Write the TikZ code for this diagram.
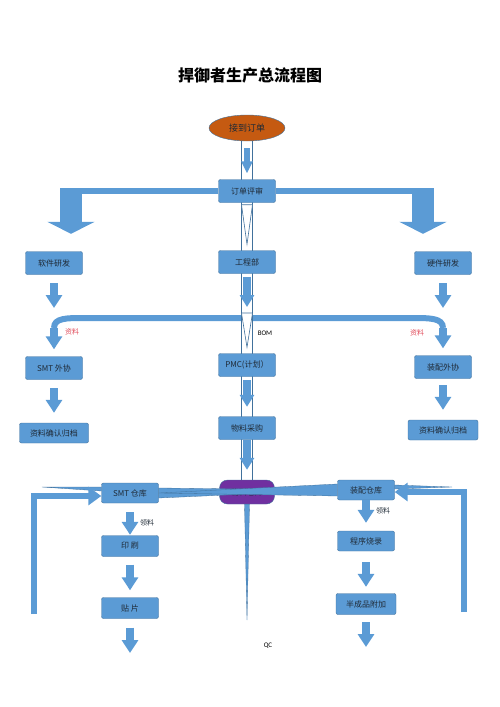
\documentclass[tikz,border=0pt]{standalone}
\usepackage{fontspec}
\usetikzlibrary{shapes.geometric,arrows.meta,backgrounds,calc}
\newfontfamily\cjk{Noto Sans CJK SC}
\newfontfamily\lat{Carlito}
\definecolor{arrblue}{HTML}{5B9BD5}
\definecolor{arrline}{HTML}{41719C}
\definecolor{ordfill}{HTML}{C55A11}
\definecolor{stkfill}{HTML}{7030A0}
\definecolor{boxtext}{HTML}{1F2A36}
\definecolor{notered}{HTML}{E04B5A}

\tikzset{
  box/.style={draw=arrline, fill=arrblue, rounded corners=2pt, minimum width=57pt,
    minimum height=23pt, inner sep=1pt, text=boxtext, font=\cjk\fontsize{8}{9}\selectfont},
  blk/.style={draw=arrblue, line width=8pt, -{Triangle[width=16pt,length=13pt]}},
  midblk/.style={draw=arrblue, line width=8pt, -{Triangle[width=14pt,length=12pt]}},
  thinblk/.style={draw=arrblue, line width=6pt, -{Triangle[width=11pt,length=12pt]}},
  bigblk/.style={draw=arrblue, line width=22pt, -{Triangle[width=47pt,length=12pt]}},
  band/.style={draw=arrblue, line width=6pt},
  feed/.style={draw=arrblue, line width=6pt, line join=miter, -{Triangle[width=18pt,length=13pt]}},
  pipe/.style={draw=arrline, line width=0.8pt, double=white, double distance=10pt},
  sliver/.style={fill=arrblue, draw=arrline, line width=0.3pt},
  vee/.style={fill=white, draw=arrline, line width=0.6pt},
  note/.style={font=\cjk\fontsize{7}{8}\selectfont, text=boxtext}
}

\begin{document}
\begin{tikzpicture}[x=1pt,y=-1pt]
    \useasboundingbox (0,0) rectangle (500,707);

    % --- Title ---
    \node[font=\cjk\bfseries\fontsize{16}{18}\selectfont] (title) at (250,75) {捍御者生产总流程图};

    % --- Upper part ---
    \node[ellipse, draw=arrline, fill=ordfill, minimum width=76pt, minimum height=26pt,
      inner sep=0pt, text=boxtext, font=\cjk\fontsize{9}{10}\selectfont] (order) at (247,128) {接到订单};
    \node[box] (review) at (247,191) {订单评审};
    \node[box] (soft) at (54,263) {软件研发};
    \node[box] (eng) at (247,262) {工程部};
    \node[box] (hard) at (443,263) {硬件研发};
    \node[box] (smtout) at (54,368) {SMT 外协};
    \node[box] (pmc) at (247,365) {PMC(计划）};
    \node[box] (asmout) at (443,367) {装配外协};
    \node[box, minimum width=69pt, minimum height=20pt] (archL) at (54,433) {资料确认归档};
    \node[box] (buy) at (247,428) {物料采购};
    \node[box, minimum width=70pt, minimum height=20pt] (archR) at (443,430) {资料确认归档};

    % --- Lower part ---
    \node[box, fill=stkfill, rounded corners=8pt, minimum width=55pt, minimum height=24pt] (mstock) at (247,492) {物料仓库};
    \node[box, minimum height=20pt] (smtstock) at (130,493) {SMT 仓库};
    \node[box, minimum height=20pt] (asmstock) at (366,490) {装配仓库};
    \node[box, minimum height=21pt] (print) at (130,546) {印\ 刷};
    \node[box, minimum height=21pt] (mount) at (130,608) {贴\ 片};
    \node[box, minimum height=20pt] (burn) at (366,541) {程序烧录};
    \node[box, minimum width=60pt, minimum height=21pt] (semi) at (366,604) {半成品附加};

    \coordinate (lcorner) at (71,188);
    \coordinate (rcorner) at (423,188);
    \coordinate (split) at (247,318);
    \coordinate (turnL) at (84,318);
    \coordinate (turnR) at (412,318);
    \coordinate (dropL) at (54,328);
    \coordinate (dropR) at (443,328);
    \coordinate (lfeed) at (42,487);
    \coordinate (rfeed) at (452,487);
    \coordinate (lbase) at (34,614);
    \coordinate (rbase) at (464,612);
    \coordinate (qcend) at (247,620);
    \coordinate (mountend) at (130,653);
    \coordinate (semiend) at (366,647);

    % --- Bands and pipe behind the boxes ---
    \begin{scope}[on background layer]
        \draw[band] (review) -- (review -| lcorner);
        \draw[band] (review) -- (review -| rcorner);
        \draw[band] (dropL) .. controls +(0,-10) and +(-18,0) .. (turnL) -- (turnR)
            .. controls +(18,0) and +(0,-10) .. (dropR);
        \draw[pipe] (order.south) -- (mstock.north);
    \end{scope}

    % --- Split to both sides ---
    \draw[bigblk, shorten >=17.5pt] (lcorner) -- (lcorner |- soft.north);
    \draw[bigblk, shorten >=17.5pt] (rcorner) -- (rcorner |- hard.north);

    % --- Side columns ---
    \draw[blk, shorten <=8.5pt, shorten >=10pt] (soft) -- (soft |- split);
    \draw[blk, shorten <=8.5pt, shorten >=10pt] (hard) -- (hard |- split);
    \draw[blk, shorten >=7pt] (dropL) -- (smtout);
    \draw[blk, shorten >=7pt] (dropR) -- (asmout);
    \draw[blk, shorten <=8.5pt, shorten >=10pt] (smtout) -- (archL);
    \draw[blk, shorten <=6.5pt, shorten >=10pt] (asmout) -- (archR);

    % --- Middle column ---
    \draw[thinblk, shorten <=7pt, shorten >=6pt] (order) -- (review);
    \draw[vee] ($(review.south)+(-5.5,2)$) -- ($(review.south)+(5.5,2)$) -- ($(eng.north)+(0,-6)$) -- cycle;
    \draw[midblk, shorten <=3pt, shorten >=11pt] (eng) -- (split);
    \draw[vee] ($(split)+(-5.5,-5)$) -- ($(split)+(5.5,-5)$) -- ($(pmc.north)+(0,-6)$) -- cycle;
    \draw[midblk, shorten <=3.5pt, shorten >=9.5pt] (pmc) -- (buy);
    \draw[midblk, shorten <=0.5pt, shorten >=10pt] (buy) -- (mstock);

    % --- Stock lines ---
    \draw[sliver] ($(smtstock.east)+(0,-5)$) -- ($(smtstock.east)+(0,5)$) -- (asmstock.west) -- cycle;
    \draw[sliver] ($(asmstock.west)+(0,-6)$) -- ($(asmstock.west)+(0,6)$) -- (smtstock.east) -- cycle;
    \draw[sliver] (lfeed) -- ($(smtstock.west)+(0,-6)$) -- ($(smtstock.west)+(0,-2)$) -- cycle;
    \draw[sliver] (rfeed) -- ($(asmstock.east)+(0,-5)$) -- ($(asmstock.east)+(0,-1)$) -- cycle;
    \draw[feed] (lbase) |- ($(smtstock.west)+(0,3)$);
    \draw[feed] (rbase) |- ($(asmstock.east)+(0,2)$);
    \draw[sliver] ($(mstock.south)+(-2.5,0)$) -- ($(mstock.south)+(2.5,0)$) -- (qcend) -- cycle;

    % --- Lower columns ---
    \draw[blk, shorten <=9pt, shorten >=0.5pt] (smtstock) -- (print);
    \draw[blk, shorten <=8pt, shorten >=7pt] (print) -- (mount);
    \draw[blk, shorten <=9pt] (mount) -- (mountend);
    \draw[blk, shorten >=8pt] (asmstock) -- (burn);
    \draw[blk, shorten <=11pt, shorten >=6.5pt] (burn) -- (semi);
    \draw[blk, shorten <=7.5pt] (semi) -- (semiend);

    % --- Labels ---
    \node[note, text=notered] (noteL) at (72,332) {资料};
    \node[note, text=notered] (noteR) at (417,333) {资料};
    \node[font=\lat\fontsize{7}{8}\selectfont] (bom) at (265,333) {BOM};
    \node[note] (pickL) at (147,523) {领料};
    \node[note] (pickR) at (383,511) {领料};
    \node[font=\lat\fontsize{7}{8}\selectfont] (qc) at (268,646) {QC};
\end{tikzpicture}
\end{document}
